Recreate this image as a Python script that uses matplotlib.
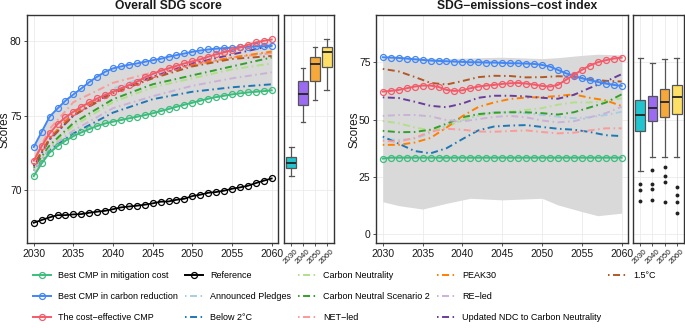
import numpy as np
import matplotlib
matplotlib.use("Agg")
import matplotlib.pyplot as plt
from matplotlib.lines import Line2D

plt.rcParams['font.family'] = ['Liberation Sans', 'DejaVu Sans']

### Data ###
years = list(range(2030, 2061))

# Overall SDG score - CMP lines and reference (yearly)
sdg_mitigation = [70.94, 71.79, 72.51, 72.95, 73.31, 73.62, 73.87, 74.09, 74.30, 74.47, 74.59,
                  74.70, 74.81, 74.92, 75.03, 75.15, 75.30, 75.44, 75.59, 75.73, 75.86,
                  76.00, 76.13, 76.24, 76.33, 76.42, 76.49, 76.55, 76.60, 76.64, 76.69]
sdg_reduction = [72.89, 73.91, 74.92, 75.48, 76.00, 76.42, 76.82, 77.25, 77.61, 77.94, 78.17,
                 78.30, 78.41, 78.50, 78.61, 78.72, 78.81, 78.95, 79.06, 79.17, 79.28,
                 79.37, 79.44, 79.49, 79.53, 79.55, 79.60, 79.62, 79.64, 79.66, 79.69]
sdg_costeff = [71.97, 72.95, 73.80, 74.43, 74.88, 75.26, 75.59, 75.88, 76.15, 76.38, 76.60,
               76.82, 77.05, 77.27, 77.56, 77.79, 78.01, 78.17, 78.34, 78.50, 78.64,
               78.77, 78.95, 79.11, 79.24, 79.40, 79.57, 79.75, 79.91, 80.02, 80.11]
sdg_reference = [67.81, 67.99, 68.17, 68.32, 68.32, 68.37, 68.39, 68.48, 68.55, 68.61, 68.72,
                 68.84, 68.90, 68.95, 69.02, 69.11, 69.22, 69.24, 69.35, 69.42, 69.60,
                 69.69, 69.82, 69.87, 69.96, 70.09, 70.18, 70.29, 70.47, 70.63, 70.78]

# Overall SDG score - scenario lines
sdg_scen_years = [2030, 2032, 2035, 2040, 2045, 2050, 2055, 2060]
sdg_pledges = [71.6, 73.3, 75.0, 76.8, 77.8, 78.4, 78.9, 79.2]
sdg_below2 = [71.3, 72.7, 73.8, 75.2, 76.1, 76.6, 76.9, 77.1]
sdg_cn = [71.4, 72.9, 74.3, 75.9, 76.9, 77.5, 78.1, 78.5]
sdg_cn2 = [71.5, 73.0, 74.5, 76.1, 77.1, 77.7, 78.3, 78.9]
sdg_net = [72.0, 74.1, 75.9, 77.2, 77.9, 78.4, 78.9, 79.2]
sdg_peak30 = [71.7, 73.5, 75.2, 76.6, 77.6, 78.4, 78.9, 79.3]
sdg_re = [71.3, 72.8, 74.0, 75.5, 76.3, 77.0, 77.5, 77.9]
sdg_ndc = [71.6, 73.4, 75.0, 76.6, 77.6, 78.5, 79.1, 79.7]
sdg_15 = [71.7, 73.4, 75.0, 76.5, 77.5, 78.3, 78.8, 79.0]

# SDG-emissions-cost index - CMP lines (yearly)
idx_mitigation = [33.0] + [33.4] * 30
idx_reduction = [77.18, 77.03, 76.89, 76.60, 76.31, 76.02, 75.73, 75.58, 75.44, 75.29, 75.15,
                 75.00, 75.00, 74.85, 74.85, 74.71, 74.56, 74.56, 74.42, 74.27, 73.84,
                 73.11, 71.66, 70.20, 69.04, 68.02, 67.15, 66.42, 65.70, 65.12, 64.68]
idx_costeff = [62.21, 62.50, 62.94, 63.66, 64.39, 64.83, 64.83, 64.24, 62.94, 62.50, 62.79,
               63.66, 64.39, 64.83, 65.12, 65.55, 65.84, 65.99, 65.70, 65.26, 64.68,
               64.39, 65.12, 67.30, 69.48, 71.66, 73.55, 75.00, 75.87, 76.60, 77.03]

# SDG-emissions-cost index - scenario lines
idx_scen_years = list(range(2030, 2061, 2))
idx_pledges = [41.6, 41.1, 41.7, 44.2, 47.5, 49.8, 51.8, 53.2, 53.2, 52.8, 52.0, 51.3, 50.6, 51.0, 52.0, 53.4]
idx_below2 = [42.6, 39.5, 36.3, 35.3, 37.5, 41.5, 45.3, 47.0, 47.4, 47.6, 46.8, 46.0, 45.6, 44.6, 43.2, 42.8]
idx_cn = [49.4, 48.4, 46.6, 45.3, 46.8, 49.8, 51.8, 52.8, 53.4, 54.2, 55.0, 56.5, 57.5, 57.5, 58.0, 59.3]
idx_cn2 = [45.1, 44.5, 44.6, 45.6, 48.2, 51.0, 52.4, 53.0, 53.2, 53.2, 52.8, 52.2, 53.2, 55.3, 57.4, 61.0]
idx_net = [40.7, 40.4, 42.0, 44.8, 46.0, 45.6, 44.8, 44.7, 45.0, 45.3, 44.6, 44.0, 44.3, 45.3, 46.2, 46.2]
idx_peak30 = [39.0, 39.0, 40.0, 42.0, 46.5, 51.5, 55.5, 57.5, 59.0, 59.6, 59.8, 60.3, 61.0, 59.5, 58.4, 55.9]
idx_re = [51.6, 52.0, 52.0, 51.4, 49.8, 49.2, 50.2, 51.2, 51.6, 51.0, 49.6, 48.8, 49.3, 51.0, 52.8, 55.6]
idx_ndc = [59.7, 59.4, 57.8, 56.0, 55.4, 57.0, 59.5, 60.4, 60.4, 60.1, 59.5, 59.1, 60.8, 63.8, 66.6, 69.8]
idx_15 = [72.1, 71.0, 68.6, 66.0, 65.3, 66.8, 68.5, 69.1, 69.0, 68.4, 68.5, 68.9, 68.7, 67.6, 66.9, 66.6]

# grey uncertainty band of the index panel
idx_band_years = [2030, 2032, 2035, 2038, 2041, 2045, 2050, 2052, 2055, 2057, 2060]
idx_band_low = [14.2, 12.5, 11.0, 13.5, 15.7, 15.0, 15.7, 12.8, 9.9, 8.1, 9.2]
idx_band_high = [77.8, 77.6, 76.8, 76.6, 76.9, 77.2, 76.6, 77.0, 78.0, 78.5, 78.2]

# boxplots per decade
box_labels = ['2030', '2040', '2050', '2060']
sdg_box_low = [70.94, 74.58, 76.04, 76.69]
sdg_box_q1 = [71.46, 75.68, 77.30, 78.28]
sdg_box_med = [71.83, 76.44, 78.44, 79.26]
sdg_box_q3 = [72.24, 77.30, 78.90, 79.60]
sdg_box_high = [72.90, 78.17, 79.60, 80.11]

idx_box_low = [27.6, 33.8, 33.8, 33.8]
idx_box_q1 = [45.0, 49.6, 51.0, 52.3]
idx_box_med = [52.0, 55.2, 57.8, 60.0]
idx_box_q3 = [58.4, 60.3, 63.2, 65.2]
idx_box_high = [77.0, 74.8, 76.6, 76.7]
idx_box_out = [[21.8, 19.3, 14.4], [28.0, 21.9, 19.7, 15.0], [29.5, 25.4, 22.9, 14.2], [20.8, 17.0, 14.1, 9.4]]

### Styles ###
col_mit, col_red, col_ce = '#3dbd7d', '#4287f5', '#f45b69'
box_colors = ['#22c4cf', '#9b6cf2', '#f7a83b', '#ffe066']
scen_names = ['Announced Pledges', 'Below 2°C', 'Carbon Neutrality', 'Carbon Neutral Scenario 2',
              'NET\u2212led', 'PEAK30', 'RE\u2212led', 'Updated NDC to Carbon Neutrality', '1.5°C']
scen_colors = ['#a6cee3', '#1f78b4', '#b2df8a', '#33a02c', '#fb9a99', '#ff7f00', '#cab2d6', '#6a3d9a', '#b15928']
dotdash = (0, (0.8, 1.8, 3.6, 1.8))
txt = '#1a1a1a'


def style_axes(ax):
    ax.set_axisbelow(True)
    ax.grid(True, color='#ebebeb', lw=0.6)
    for s in ax.spines.values():
        s.set_color('#333333')
        s.set_linewidth(1.0)
    ax.tick_params(labelsize=7.5, colors='#333333', labelcolor=txt, length=2.5, width=0.6, pad=1.5)


def draw_main(ax, cmps, scen_x, scens, band_x=None, band_lo=None, band_hi=None, reference=None):
    if band_x is None:
        lo = np.minimum.reduce([np.array(c) for c in cmps])
        hi = np.maximum.reduce([np.array(c) for c in cmps])
        ax.fill_between(years, lo, hi, color='#d9d9d9', lw=0)
    else:
        ax.fill_between(band_x, band_lo, band_hi, color='#d9d9d9', lw=0)
    for vals, c in zip(scens, scen_colors):
        ax.plot(scen_x, vals, color=c, lw=1.4, ls=dotdash)
    if reference is not None:
        ax.plot(years, reference, color='black', lw=1.3, marker='o', ms=4.3, mfc='none', mew=0.9)
    for vals, c in zip(cmps, [col_mit, col_red, col_ce]):
        ax.plot(years, vals, color=c, lw=1.4, marker='o', ms=4.3, mfc='none', mew=0.9)
    ax.set_xlim(2029.15, 2060.8)
    ax.set_xticks(range(2030, 2061, 5))
    style_axes(ax)


def draw_box(ax, low, q1, med, q3, high, outs=None):
    stats = []
    for i in range(4):
        stats.append(dict(whislo=low[i], q1=q1[i], med=med[i], q3=q3[i], whishi=high[i],
                          fliers=outs[i] if outs else []))
    b = ax.bxp(stats, positions=[1, 2, 3, 4], widths=0.8, capwidths=0.4, patch_artist=True,
               boxprops=dict(edgecolor='#555555', lw=0.9),
               medianprops=dict(color='#222222', lw=1.3),
               whiskerprops=dict(color='#555555', lw=0.9),
               capprops=dict(color='#555555', lw=0.9),
               flierprops=dict(marker='o', mfc='#222222', mec='none', ms=2.8))
    for p, c in zip(b['boxes'], box_colors):
        p.set_facecolor(c)
    ax.set_xlim(0.4, 4.6)
    ax.set_xticks([1, 2, 3, 4])
    ax.set_xticklabels(box_labels, rotation=45, ha='center', va='top', fontsize=5.8)
    style_axes(ax)
    ax.tick_params(axis='x', labelsize=5.8, pad=1)
    ax.tick_params(axis='y', length=0, labelleft=False)


fig = plt.figure(figsize=(6.85, 3.28), dpi=100)
W, H = 685, 328
bot, hgt = 1 - 243 / H, 228 / H
axL = fig.add_axes([27 / W, bot, 251 / W, hgt])
axLb = fig.add_axes([284 / W, bot, 50 / W, hgt])
axR = fig.add_axes([376 / W, bot, 252 / W, hgt])
axRb = fig.add_axes([633 / W, bot, 51 / W, hgt])

draw_main(axL, [sdg_mitigation, sdg_reduction, sdg_costeff], sdg_scen_years,
          [sdg_pledges, sdg_below2, sdg_cn, sdg_cn2, sdg_net, sdg_peak30, sdg_re, sdg_ndc, sdg_15],
          reference=sdg_reference)
axL.set_ylim(66.45, 81.75)
axL.set_yticks([70, 75, 80])
draw_box(axLb, sdg_box_low, sdg_box_q1, sdg_box_med, sdg_box_q3, sdg_box_high)
axLb.set_ylim(66.45, 81.75)
axLb.set_yticks([70, 75, 80])

draw_main(axR, [idx_mitigation, idx_reduction, idx_costeff], idx_scen_years,
          [idx_pledges, idx_below2, idx_cn, idx_cn2, idx_net, idx_peak30, idx_re, idx_ndc, idx_15],
          idx_band_years, idx_band_low, idx_band_high)
axR.set_ylim(-3.8, 95.6)
axR.set_yticks([0, 25, 50, 75])
draw_box(axRb, idx_box_low, idx_box_q1, idx_box_med, idx_box_q3, idx_box_high, idx_box_out)
axRb.set_ylim(-3.8, 95.6)
axRb.set_yticks([0, 25, 50, 75])

fig.text(168 / W, 1 - 6 / H, 'Overall SDG score', ha='center', va='center', fontsize=8.7, fontweight='bold', color=txt)
fig.text(517 / W, 1 - 6 / H, 'SDG\u2212emissions\u2212cost index', ha='center', va='center', fontsize=8.7, fontweight='bold', color=txt)
fig.text(5 / W, 1 - 130 / H, 'Scores', rotation=90, ha='center', va='center', fontsize=8.5, color=txt)
fig.text(354 / W, 1 - 130 / H, 'Scores', rotation=90, ha='center', va='center', fontsize=8.5, color=txt)

# legend (two empty entries so the last column holds only 1.5°C)
handles = [Line2D([], [], color=col_mit, lw=1.4, marker='o', ms=4.3, mfc='none', mew=0.9),
           Line2D([], [], color=col_red, lw=1.4, marker='o', ms=4.3, mfc='none', mew=0.9),
           Line2D([], [], color=col_ce, lw=1.4, marker='o', ms=4.3, mfc='none', mew=0.9),
           Line2D([], [], color='black', lw=1.4, marker='o', ms=4.3, mfc='none', mew=0.9)]
handles += [Line2D([], [], color=c, lw=1.4, ls=dotdash) for c in scen_colors]
handles += [Line2D([], [], alpha=0), Line2D([], [], alpha=0)]
labels = ['Best CMP in mitigation cost', 'Best CMP in carbon reduction', 'The cost\u2212effective CMP',
          'Reference'] + scen_names + ['', '']
fig.legend(handles, labels, ncol=5, loc='upper left', bbox_to_anchor=(33 / W, 1 - 271 / H),
           frameon=False, fontsize=6.5, handlelength=2.0, handletextpad=0.8, columnspacing=0.75,
           labelspacing=1.35, borderpad=0, borderaxespad=0)

fig.savefig('out.png', dpi=100)
